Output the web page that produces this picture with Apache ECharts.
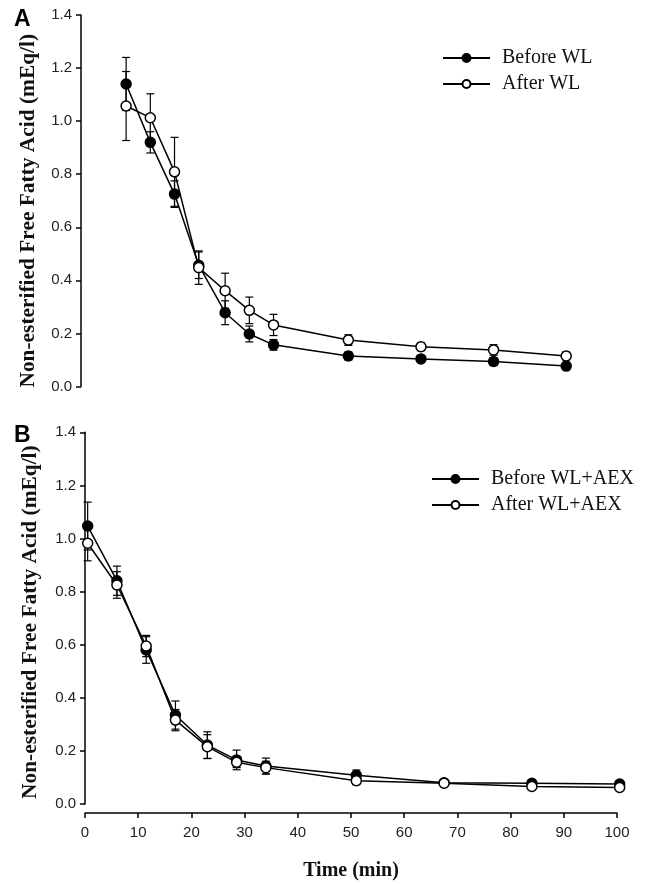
<!DOCTYPE html>
<html lang="en">
<head>
    <meta charset="UTF-8">
    <title>NEFA time course</title>
    <script src="https://cdn.jsdelivr.net/npm/echarts@6/dist/echarts.min.js"></script>
    <style>
        html, body { margin: 0; padding: 0; background: #fff; }
    </style>
</head>
<body>
<div id="chartContainer" style="width:651px;height:884px;"></div>
<script type="text/javascript">
    // sample times (min), shared by both panels
    var times = [0.5, 6, 11.5, 17, 23, 28.5, 34, 51, 67.5, 84, 100.5];
    var xTicks = [0, 10, 20, 30, 40, 50, 60, 70, 80, 90, 100];
    var yTicks = [0.0, 0.2, 0.4, 0.6, 0.8, 1.0, 1.2, 1.4];

    // panel A
    var beforeWL    = [1.14, 0.92, 0.725, 0.457, 0.278, 0.198, 0.157, 0.115, 0.104, 0.094, 0.077];
    var beforeWLErr = [0.10, 0.04, 0.05, 0.05, 0.045, 0.03, 0.02, 0.015, 0.012, 0.015, 0.01];
    var afterWL     = [1.057, 1.013, 0.809, 0.448, 0.361, 0.287, 0.232, 0.175, 0.15, 0.138, 0.115];
    var afterWLErr  = [0.13, 0.09, 0.13, 0.063, 0.066, 0.05, 0.04, 0.02, 0.015, 0.02, 0.015];

    // panel B
    var beforeAEX    = [1.047, 0.841, 0.58, 0.335, 0.222, 0.166, 0.143, 0.108, 0.08, 0.078, 0.075];
    var beforeAEXErr = [0.09, 0.055, 0.05, 0.053, 0.05, 0.037, 0.03, 0.02, 0.01, 0.012, 0.012];
    var afterAEX     = [0.982, 0.825, 0.595, 0.316, 0.216, 0.157, 0.137, 0.088, 0.078, 0.066, 0.062];
    var afterAEXErr  = [0.066, 0.05, 0.04, 0.04, 0.045, 0.02, 0.024, 0.015, 0.01, 0.01, 0.01];

    var serif = 'Liberation Serif, Times New Roman, serif';
    var sans = 'Liberation Sans, Arial, sans-serif';
    var yName = 'Non-esterified Free Fatty Acid (mEq/l)';

    function pts(vals) {
        return vals.map(function (v, i) { return [times[i], v]; });
    }

    function errPts(vals, errs) {
        return vals.map(function (v, i) { return [times[i], v - errs[i], v + errs[i]]; });
    }

    // 误差线
    function errorSeries(name, gridIdx, vals, errs) {
        return {
            name: name,
            type: 'custom',
            xAxisIndex: gridIdx,
            yAxisIndex: gridIdx,
            z: 1,
            silent: true,
            clip: false,
            data: errPts(vals, errs),
            renderItem: function (params, api) {
                var lo = api.coord([api.value(0), api.value(1)]);
                var hi = api.coord([api.value(0), api.value(2)]);
                var w = 4;
                var st = { stroke: '#000', lineWidth: 1.2 };
                return {
                    type: 'group',
                    children: [
                        { type: 'line', shape: { x1: lo[0], y1: lo[1], x2: hi[0], y2: hi[1] }, style: st },
                        { type: 'line', shape: { x1: lo[0] - w, y1: lo[1], x2: lo[0] + w, y2: lo[1] }, style: st },
                        { type: 'line', shape: { x1: hi[0] - w, y1: hi[1], x2: hi[0] + w, y2: hi[1] }, style: st }
                    ]
                };
            }
        };
    }

    function lineSeries(name, gridIdx, vals, filled, z) {
        return {
            name: name,
            type: 'line',
            xAxisIndex: gridIdx,
            yAxisIndex: gridIdx,
            z: z,
            clip: false,
            data: pts(vals),
            symbol: 'circle',
            symbolSize: 10,
            showAllSymbol: true,
            lineStyle: { color: '#000', width: 1.5 },
            itemStyle: { color: filled ? '#000' : '#fff', borderColor: '#000', borderWidth: 1.5 },
            emphasis: { disabled: true }
        };
    }

    // shift: pushes the rotated axis title down the page
    function yAxisOf(gridIdx, gap, shift) {
        return {
            gridIndex: gridIdx,
            type: 'value',
            min: yTicks[0],
            max: yTicks[yTicks.length - 1],
            interval: 0.2,
            name: yName,
            nameLocation: 'middle',
            nameGap: gap,
            nameTextStyle: {
                fontFamily: serif, fontWeight: 'bold', fontSize: 21.4, color: '#111',
                padding: [0, shift, 0, 0]
            },
            axisLine: { show: true, onZero: false, lineStyle: { color: '#000', width: 1.5 } },
            axisTick: { show: true, length: 5, lineStyle: { color: '#000', width: 1.5 } },
            axisLabel: {
                margin: 9,
                fontFamily: sans,
                fontSize: 15,
                color: '#222',
                formatter: function (v) { return v.toFixed(1); }
            },
            splitLine: { show: false }
        };
    }

    function legendOf(names, left, top) {
        return {
            data: names,
            orient: 'vertical',
            left: left,
            top: top,
            padding: 0,
            itemWidth: 47,
            itemHeight: 10,
            itemGap: 6,
            selectedMode: false,
            textStyle: { fontFamily: serif, fontSize: 20, color: '#111', lineHeight: 20, padding: [0, 0, 0, 7] }
        };
    }

    var chart = echarts.init(document.getElementById('chartContainer'));
    var option = {
        animation: false,
        backgroundColor: '#fff',
        grid: [
            { left: 81, top: 15, width: 505, height: 371.5 },
            { left: 85, top: 432.3, width: 532, height: 371.7 }
        ],
        xAxis: [
            { gridIndex: 0, type: 'value', min: -9.75, max: 105, show: false },
            {
                gridIndex: 1,
                type: 'value',
                min: xTicks[0],
                max: xTicks[xTicks.length - 1],
                interval: 10,
                offset: 9,
                name: 'Time (min)',
                nameLocation: 'middle',
                nameGap: 48,
                nameTextStyle: { fontFamily: serif, fontWeight: 'bold', fontSize: 20, color: '#111' },
                axisLine: { show: true, onZero: false, lineStyle: { color: '#000', width: 1.5 } },
                axisTick: { show: true, length: 5, lineStyle: { color: '#000', width: 1.5 } },
                axisLabel: { margin: 12, fontFamily: sans, fontSize: 15, color: '#222' },
                splitLine: { show: false }
            }
        ],
        yAxis: [yAxisOf(0, 42, 20), yAxisOf(1, 44, 8)],
        legend: [
            legendOf(['Before WL', 'After WL'], 442, 48),
            legendOf(['Before WL+AEX', 'After WL+AEX'], 431, 469)
        ],
        graphic: [
            { type: 'text', left: 14, top: 8, style: { text: 'A', font: 'bold 23px ' + sans, fill: '#000' } },
            { type: 'text', left: 14, top: 424, style: { text: 'B', font: 'bold 23px ' + sans, fill: '#000' } }
        ],
        series: [
            errorSeries('errBeforeWL', 0, beforeWL, beforeWLErr),
            errorSeries('errAfterWL', 0, afterWL, afterWLErr),
            lineSeries('Before WL', 0, beforeWL, true, 2),
            lineSeries('After WL', 0, afterWL, false, 3),
            errorSeries('errBeforeAEX', 1, beforeAEX, beforeAEXErr),
            errorSeries('errAfterAEX', 1, afterAEX, afterAEXErr),
            lineSeries('Before WL+AEX', 1, beforeAEX, true, 2),
            lineSeries('After WL+AEX', 1, afterAEX, false, 3)
        ]
    };
    option && chart.setOption(option);
</script>
</body>
</html>
